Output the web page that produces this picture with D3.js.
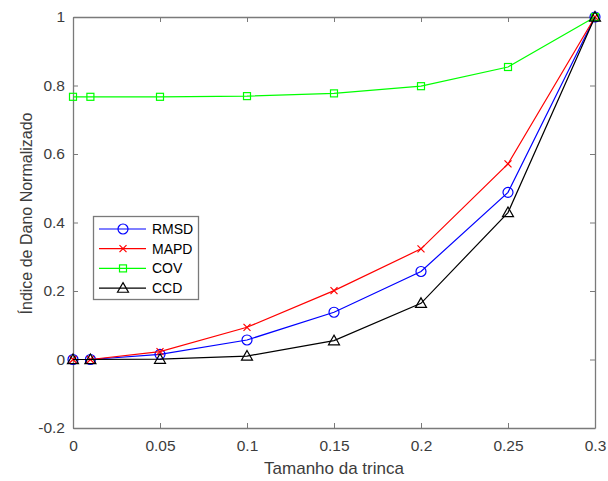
<!DOCTYPE html>
<html>
<head>
<meta charset="utf-8">
<script src="https://cdn.jsdelivr.net/npm/d3@7"></script>
<style>
  html, body { margin: 0; padding: 0; background: #fff; }
  svg { display: block; font-family: "Liberation Sans", Arial, sans-serif; }
</style>
</head>
<body>
<svg id="chart" width="608" height="481"></svg>
<script>
// Crack size (x) and normalized damage indices for each metric
const crackSize = [0, 0.01, 0.05, 0.1, 0.15, 0.2, 0.25, 0.3];
const rmsd = [0, 0, 0.015, 0.057, 0.138, 0.257, 0.488, 1];
const mapd = [0, 0, 0.023, 0.094, 0.201, 0.323, 0.571, 1];
const cov  = [0.767, 0.767, 0.767, 0.769, 0.777, 0.798, 0.854, 1];
const ccd  = [0, 0, 0.001, 0.010, 0.055, 0.164, 0.429, 1];

const xTicks = [0, 0.05, 0.1, 0.15, 0.2, 0.25, 0.3];
const xTickLabels = ["0", "0.05", "0.1", "0.15", "0.2", "0.25", "0.3"];
const yTicks = [-0.2, 0, 0.2, 0.4, 0.6, 0.8, 1];
const yTickLabels = ["-0.2", "0", "0.2", "0.4", "0.6", "0.8", "1"];

const seriesNames = ["RMSD", "MAPD", "COV", "CCD"];
const seriesValues = [rmsd, mapd, cov, ccd];
const seriesColors = ["#0000ff", "#ff0000", "#00ff00", "#000000"];
const seriesMarkers = ["circle", "cross", "square", "triangle"];

const xLabel = "Tamanho da trinca";
const yLabel = "Índice de Dano Normalizado";

const svg = d3.select("#chart");
const plotLeft = 73, plotRight = 595, plotTop = 17, plotBottom = 428;

const x = d3.scaleLinear().domain([0, 0.3]).range([plotLeft, plotRight]);
const y = d3.scaleLinear().domain([-0.2, 1]).range([plotBottom, plotTop]);

const axisColor = "#7a7a7a";
const textColor = "#3c3c3c";
const tickLen = 5;

// Axes with inward ticks on all four sides
const axB = d3.axisBottom(x).tickValues(xTicks).tickFormat((d, i) => xTickLabels[i]).tickSizeInner(-tickLen).tickSizeOuter(0).tickPadding(12);
const axT = d3.axisTop(x).tickValues(xTicks).tickFormat("").tickSizeInner(-tickLen).tickSizeOuter(0);
const axL = d3.axisLeft(y).tickValues(yTicks).tickFormat((d, i) => yTickLabels[i]).tickSizeInner(-tickLen).tickSizeOuter(0).tickPadding(8);
const axR = d3.axisRight(y).tickValues(yTicks).tickFormat("").tickSizeInner(-tickLen).tickSizeOuter(0);

function styleAxis(g) {
  g.select(".domain").attr("stroke", axisColor).attr("stroke-width", 1.3);
  g.selectAll(".tick line").attr("stroke", axisColor).attr("stroke-width", 1);
  g.selectAll(".tick text").attr("fill", textColor).style("font-size", "15.5px")
    .style("font-family", "'Liberation Sans', Arial, sans-serif");
}

svg.append("g").attr("transform", `translate(0,${plotBottom})`).call(axB).call(styleAxis);
svg.append("g").attr("transform", `translate(0,${plotTop})`).call(axT).call(styleAxis);
svg.append("g").attr("transform", `translate(${plotLeft},0)`).call(axL).call(styleAxis);
svg.append("g").attr("transform", `translate(${plotRight},0)`).call(axR).call(styleAxis);

// Axis labels
svg.append("text")
  .attr("x", (plotLeft + plotRight) / 2).attr("y", 474)
  .attr("text-anchor", "middle")
  .attr("fill", textColor)
  .style("font-size", "17px")
  .text(xLabel);

svg.append("text")
  .attr("transform", `translate(32,${(plotTop + plotBottom) / 2 - 9}) rotate(-90)`)
  .attr("text-anchor", "middle")
  .attr("fill", textColor)
  .style("font-size", "16px")
  .text(yLabel);

// Marker drawing
function drawMarker(g, type, cx, cy, color) {
  if (type === "circle") {
    g.append("circle").attr("cx", cx).attr("cy", cy).attr("r", 5)
      .attr("fill", "none").attr("stroke", color).attr("stroke-width", 1.2);
  } else if (type === "square") {
    g.append("rect").attr("x", cx - 3.5).attr("y", cy - 3.5).attr("width", 7).attr("height", 7)
      .attr("fill", "none").attr("stroke", color).attr("stroke-width", 1.2);
  } else if (type === "cross") {
    const s = 3.5;
    g.append("path").attr("d", `M${cx - s},${cy - s}L${cx + s},${cy + s}M${cx - s},${cy + s}L${cx + s},${cy - s}`)
      .attr("stroke", color).attr("stroke-width", 1.2).attr("fill", "none");
  } else if (type === "triangle") {
    const s = 5.5;
    g.append("path").attr("d", `M${cx},${cy - s}L${cx + s},${cy + s * 0.75}L${cx - s},${cy + s * 0.75}Z`)
      .attr("stroke", color).attr("stroke-width", 1.2).attr("fill", "none");
  }
}

const line = d3.line().x(d => x(d[0])).y(d => y(d[1]));

seriesNames.forEach((name, si) => {
  const pts = crackSize.map((cx, i) => [cx, seriesValues[si][i]]);
  const g = svg.append("g");
  g.append("path").attr("d", line(pts))
    .attr("fill", "none").attr("stroke", seriesColors[si]).attr("stroke-width", 1.2);
  pts.forEach(p => drawMarker(g, seriesMarkers[si], x(p[0]), y(p[1]), seriesColors[si]));
});

// Legend
const leg = svg.append("g");
leg.append("rect").attr("x", 93.5).attr("y", 216.5).attr("width", 105).attr("height", 83)
  .attr("fill", "#fff").attr("stroke", axisColor).attr("stroke-width", 1.3);
seriesNames.forEach((name, si) => {
  const ly = 229 + si * 19.7;
  leg.append("line").attr("x1", 99).attr("x2", 146).attr("y1", ly).attr("y2", ly)
    .attr("stroke", seriesColors[si]).attr("stroke-width", 1.2);
  drawMarker(leg, seriesMarkers[si], 123, ly, seriesColors[si]);
  leg.append("text").attr("x", 152).attr("y", ly + 5)
    .attr("fill", "#000").style("font-size", "14px").text(name);
});
</script>
</body>
</html>
